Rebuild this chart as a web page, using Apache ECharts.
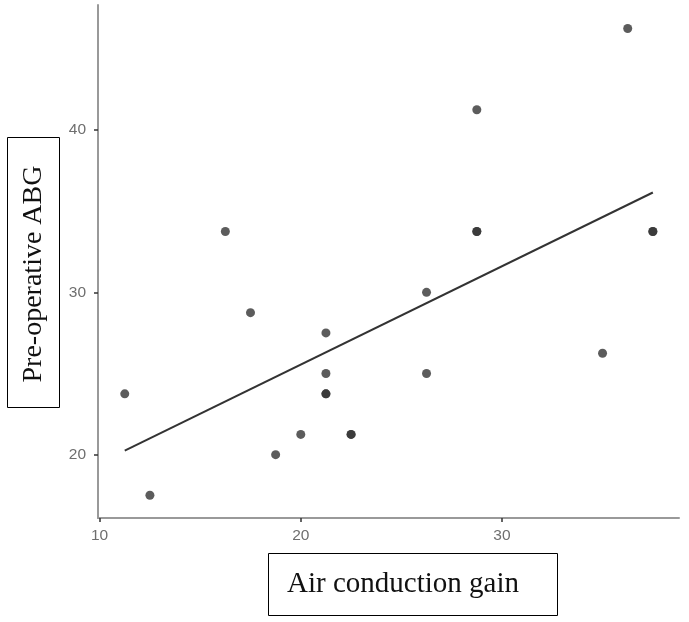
<!DOCTYPE html>
<html>
<head>
<meta charset="utf-8">
<script src="https://cdn.jsdelivr.net/npm/echarts@6/dist/echarts.min.js"></script>
<style>html,body{margin:0;padding:0;background:#fff}#c{width:689px;height:622px}</style>
</head>
<body>
<div id="c"></div>
<script>
// Air conduction gain (x) vs Pre-operative ABG (y); repeated pairs appear darker
var airGain = [11.25, 12.5, 16.25, 17.5, 18.75, 20, 21.25, 21.25, 21.25, 21.25, 22.5, 22.5, 26.25, 26.25, 28.75, 28.75, 28.75, 35, 36.25, 37.5, 37.5];
var preABG  = [23.75, 17.5, 33.75, 28.75, 20, 21.25, 27.5, 25, 23.75, 23.75, 21.25, 21.25, 30, 25, 41.25, 33.75, 33.75, 26.25, 46.25, 33.75, 33.75];
var fitX = [11.25, 37.5];
var fitY = [20.25, 36.15];
var xTicks = [10, 20, 30];
var yTicks = [20, 30, 40];
var xTitle = 'Air conduction gain';
var yTitle = 'Pre-operative ABG';

var points = airGain.map(function (x, i) { return [x, preABG[i]]; });
var fit = fitX.map(function (x, i) { return [x, fitY[i]]; });

var chart = echarts.init(document.getElementById('c'), null, {renderer: 'canvas'});
var labelStyle = {color: '#6e6e6e', fontSize: 15.5, fontFamily: '"Liberation Sans", Arial, sans-serif'};
chart.setOption({
  animation: false,
  backgroundColor: '#fff',
  grid: {left: 98, right: 10, top: 5, bottom: 104, containLabel: false},
  xAxis: {
    type: 'value', min: 9.92, max: 38.8,
    axisLine: {show: true, onZero: false, lineStyle: {color: '#999', width: 2}},
    axisTick: {show: true, length: 4, customValues: xTicks, lineStyle: {color: '#333', width: 1.5}},
    axisLabel: Object.assign({customValues: xTicks, margin: 10}, labelStyle),
    splitLine: {show: false}
  },
  yAxis: {
    type: 'value', min: 16.1, max: 47.7,
    axisLine: {show: true, onZero: false, lineStyle: {color: '#999', width: 2}},
    axisTick: {show: true, length: 4, customValues: yTicks, lineStyle: {color: '#333', width: 1.5}},
    axisLabel: Object.assign({customValues: yTicks, margin: 12}, labelStyle),
    splitLine: {show: false}
  },
  series: [
    {
      type: 'scatter', data: points, symbolSize: 9,
      itemStyle: {color: '#333', opacity: 0.8}
    },
    {
      type: 'line', data: fit, showSymbol: false, symbol: 'none',
      lineStyle: {color: '#333', width: 2}
    }
  ],
  graphic: [
    {type: 'rect', shape: {x: 268.5, y: 553.5, width: 289, height: 62}, style: {fill: '#fff', stroke: '#000', lineWidth: 1}},
    {type: 'text', x: 287, y: 584, style: {text: xTitle, font: '29px "Liberation Serif", "Times New Roman", serif', fill: '#111', align: 'left', verticalAlign: 'middle'}},
    {type: 'rect', shape: {x: 7.5, y: 137.5, width: 52, height: 270}, style: {fill: '#fff', stroke: '#000', lineWidth: 1}},
    {type: 'text', x: 34, y: 274, rotation: Math.PI / 2, style: {text: yTitle, font: '28px "Liberation Serif", "Times New Roman", serif', fill: '#111', align: 'center', verticalAlign: 'middle'}}
  ]
});
</script>
</body>
</html>
